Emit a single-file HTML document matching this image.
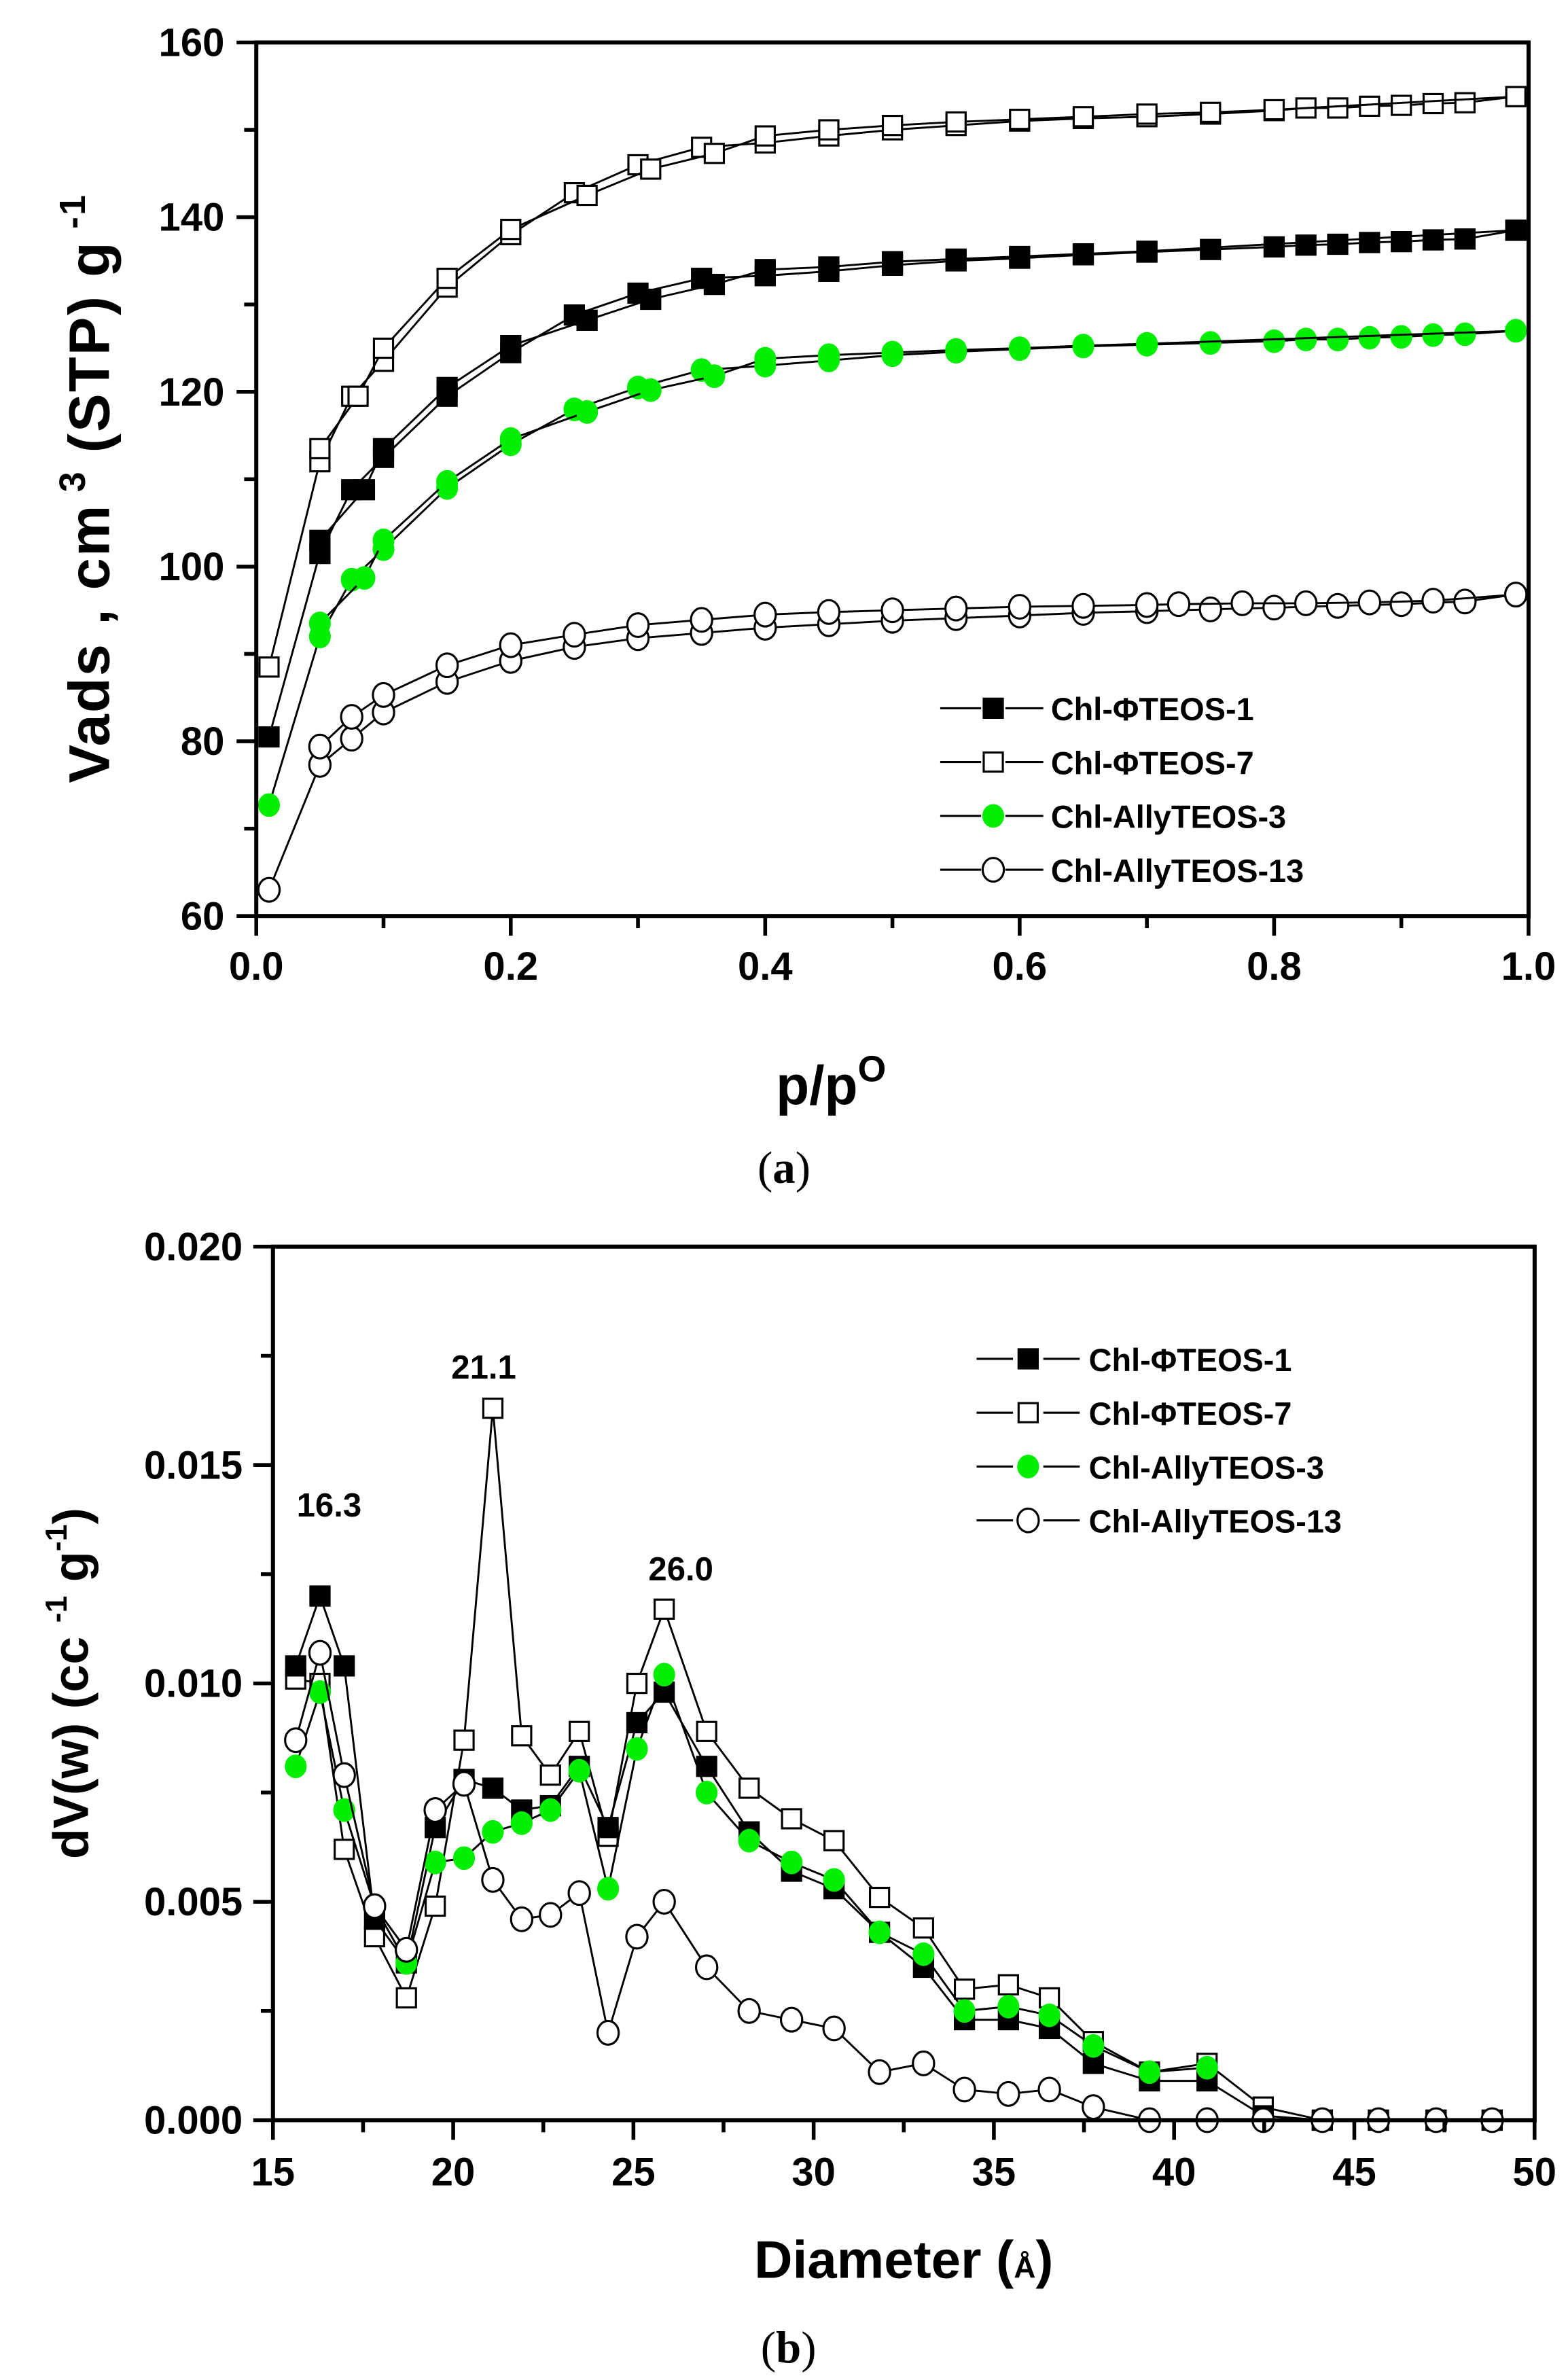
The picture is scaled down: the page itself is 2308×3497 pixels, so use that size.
<!DOCTYPE html>
<html><head><meta charset="utf-8"><style>
html,body{margin:0;padding:0;background:#fff}
svg{display:block}
text{font-family:"Liberation Sans",sans-serif;font-weight:bold;fill:#000}
</style></head><body>
<svg id="s" width="2308" height="3497" viewBox="0 0 1034 1566.7" xmlns="http://www.w3.org/2000/svg"></svg>
<script>
const S=document.getElementById('s');let h='';
function X1(v){return 169+v*839}function Y1(v){return 604-(v-60)*5.76}
function X2(v){return 180+(v-15)*23.77}function Y2(v){return 1398-v*28800}
function line(pts,fx,fy){return '<polyline fill="none" stroke="#000" stroke-width="1.3" points="'+pts.map(p=>fx(p[0]).toFixed(1)+','+fy(p[1]).toFixed(1)).join(' ')+'"/>'}
function mk(t,x,y){
 if(t==0)return `<rect x="${x-7}" y="${y-7}" width="14" height="14" fill="#000"/>`;
 if(t==1)return `<rect x="${x-6.3}" y="${y-6.3}" width="12.6" height="12.6" fill="#fff" stroke="#000" stroke-width="1.4"/>`;
 if(t==2)return `<ellipse cx="${x}" cy="${y}" rx="7.2" ry="7.8" fill="#00ee00"/>`;
 return `<ellipse cx="${x}" cy="${y}" rx="7" ry="7.8" fill="#fff" stroke="#000" stroke-width="1.4"/>`;}
function series(t,pts,fx,fy){h+=line(pts,fx,fy);pts.forEach(p=>h+=mk(t,fx(p[0]),fy(p[1])));}
const A={
1:[[0.01,88.5],[0.05,112],[0.075,119.5],[0.1,123.5],[0.15,132],[0.2,138],[0.25,142.8],[0.3,146],[0.35,148],[0.4,148.5],[0.45,149.3],[0.5,150],[0.55,150.5],[0.6,151],[0.65,151.3],[0.7,151.5],[0.75,151.8],[0.8,152.2],[0.825,152.5],[0.85,152.5],[0.875,152.7],[0.9,152.8],[0.925,153],[0.95,153.1],[0.99,153.8]],
"1d":[[0.05,113.5],[0.08,119.5],[0.1,125],[0.15,133],[0.2,138.6],[0.26,142.5],[0.31,145.5],[0.36,147.3],[0.4,149.3],[0.45,150],[0.5,150.5],[0.55,150.9],[0.6,151.2],[0.65,151.5],[0.7,151.8],[0.75,152],[0.8,152.3],[0.99,153.8]],
0:[[0.01,80.5],[0.05,101.5],[0.075,108.8],[0.1,112.5],[0.15,119.5],[0.2,124.5],[0.25,128.8],[0.3,131.3],[0.35,133],[0.4,133.3],[0.45,133.8],[0.5,134.5],[0.55,135],[0.6,135.3],[0.65,135.7],[0.7,136],[0.75,136.3],[0.8,136.6],[0.825,136.8],[0.85,136.9],[0.875,137.1],[0.9,137.2],[0.925,137.4],[0.95,137.5],[0.99,138.5]],
"0d":[[0.05,103],[0.085,108.8],[0.1,113.5],[0.15,120.5],[0.2,125.3],[0.26,128.2],[0.31,130.6],[0.36,132.3],[0.4,134],[0.45,134.3],[0.5,134.9],[0.55,135.2],[0.6,135.5],[0.65,135.8],[0.7,136.1],[0.99,138.5]],
2:[[0.01,72.7],[0.05,92],[0.075,98.5],[0.1,102],[0.15,109],[0.2,114],[0.25,118],[0.3,120.5],[0.35,122.5],[0.4,123],[0.45,123.6],[0.5,124.2],[0.55,124.6],[0.6,124.9],[0.65,125.2],[0.7,125.4],[0.75,125.6],[0.8,125.8],[0.825,126],[0.85,126],[0.875,126.2],[0.9,126.3],[0.925,126.5],[0.95,126.6],[0.99,127]],
"2d":[[0.05,93.5],[0.085,98.7],[0.1,103],[0.15,109.7],[0.2,114.6],[0.26,117.7],[0.31,120.2],[0.36,121.8],[0.4,123.8],[0.45,124.2],[0.5,124.5],[0.55,124.8],[0.6,125],[0.65,125.3],[0.7,125.5],[0.99,127]],
3:[[0.01,63],[0.05,77.3],[0.075,80.3],[0.1,83.3],[0.15,86.8],[0.2,89.2],[0.25,90.8],[0.3,91.8],[0.35,92.4],[0.4,93],[0.45,93.4],[0.5,93.8],[0.55,94.1],[0.6,94.4],[0.65,94.7],[0.7,94.9],[0.75,95.1],[0.8,95.3],[0.85,95.5],[0.9,95.7],[0.95,96],[0.99,96.8]],
"3d":[[0.05,79.4],[0.075,82.8],[0.1,85.3],[0.15,88.7],[0.2,91],[0.25,92.2],[0.3,93.3],[0.35,93.9],[0.4,94.5],[0.45,94.8],[0.5,95],[0.55,95.2],[0.6,95.4],[0.65,95.5],[0.7,95.6],[0.725,95.7],[0.775,95.8],[0.825,95.8],[0.875,95.9],[0.925,96.1],[0.99,96.8]]};
for(const k of [1,0,2,3]){series(k,A[k],X1,Y1);series(k,A[k+"d"],X1,Y1);}
h+='<rect x="169" y="28" width="839" height="576" fill="none" stroke="#000" stroke-width="2.7"/>';
for(let i=0;i<=10;i++){let x=X1(i/10);h+=`<line x1="${x}" y1="604" x2="${x}" y2="${604+(i%2?8:13)}" stroke="#000" stroke-width="2.5"/>`;if(i%2==0)h+=`<text x="${x}" y="646" font-size="26" text-anchor="middle">${(i/10).toFixed(1)}</text>`;}
for(let v=60;v<=160;v+=10){let y=Y1(v);h+=`<line x1="169" y1="${y}" x2="${169-(v%20?8:13)}" y2="${y}" stroke="#000" stroke-width="2.5"/>`;if(v%20==0)h+=`<text x="148" y="${y+9}" font-size="26" text-anchor="end">${v}</text>`;}
h+='<text x="548" y="728" font-size="36" text-anchor="middle">p/p<tspan font-size="24" dy="-15">O</tspan></text>';
h+='<text transform="translate(72,322) rotate(-90)" font-size="38" text-anchor="middle" letter-spacing="1">Vads , cm<tspan font-size="24" dy="-16"> 3</tspan><tspan dy="16"> (STP) g</tspan><tspan font-size="24" dy="-16"> -1</tspan></text>';
h+='<text x="517" y="780" font-size="30" text-anchor="middle" style="font-family:\'Liberation Serif\',serif;font-weight:normal">(<tspan font-weight="bold">a</tspan>)</text>';
const L1=["Chl-ΦTEOS-1","Chl-ΦTEOS-7","Chl-AllyTEOS-3","Chl-AllyTEOS-13"];
[0,1,2,3].forEach(i=>{let y=467+i*35.5;h+=`<line x1="620" y1="${y}" x2="647" y2="${y}" stroke="#000" stroke-width="1.4"/><line x1="663" y1="${y}" x2="688" y2="${y}" stroke="#000" stroke-width="1.4"/>`+mk(i,655,y)+`<text x="693" y="${y+8}" font-size="21">${L1[i]}</text>`;});
const xs=[195,211,227,247,268,287,306,325,344,363,382,401,420,438,466,494,522,550,580,609,636,665,692,721,758,796,833,872,909,947,984].map(p=>(p-180)/23.77+15);
const B={1:[0.0101,0.01,0.0062,0.0042,0.0028,0.0049,0.0087,0.0163,0.0088,0.0079,0.0089,0.0065,0.01,0.0117,0.0089,0.0076,0.0069,0.0064,0.0051,0.0044,0.003,0.0031,0.0028,0.0018,0.0011,0.0013,0.0003,0,0,0,0],
0:[0.0104,0.012,0.0104,0.0046,0.0036,0.0067,0.0078,0.0076,0.0071,0.0072,0.0081,0.0067,0.0091,0.0098,0.0081,0.0066,0.0057,0.0053,0.0043,0.0035,0.0023,0.0023,0.0021,0.0013,0.0009,0.0009,0.0001,0,0,0,0],
2:[0.0081,0.0098,0.0071,0.0049,0.0036,0.0059,0.006,0.0066,0.0068,0.0071,0.008,0.0053,0.0085,0.0102,0.0075,0.0064,0.0059,0.0055,0.0043,0.0038,0.0025,0.0026,0.0024,0.0017,0.0011,0.0012],
3:[0.0087,0.0107,0.0079,0.0049,0.0039,0.0071,0.0077,0.0055,0.0046,0.0047,0.0052,0.002,0.0042,0.005,0.0035,0.0025,0.0023,0.0021,0.0011,0.0013,0.0007,0.0006,0.0007,0.0003,0,0,0,0,0,0,0]};
for(const k of [1,0,2,3])series(k,B[k].map((v,i)=>[xs[i],v]),X2,Y2);
h+='<rect x="180" y="822" width="832" height="576" fill="none" stroke="#000" stroke-width="2.7"/>';
for(let v=15;v<=50;v+=2.5){let x=X2(v),maj=(v%5==0);h+=`<line x1="${x}" y1="1398" x2="${x}" y2="${1398+(maj?13:8)}" stroke="#000" stroke-width="2.5"/>`;if(maj)h+=`<text x="${x}" y="1441" font-size="26" text-anchor="middle">${v}</text>`;}
for(let i=0;i<=8;i++){let v=i*0.0025,y=Y2(v);h+=`<line x1="180" y1="${y}" x2="${180-(i%2?8:13)}" y2="${y}" stroke="#000" stroke-width="2.5"/>`;if(i%2==0)h+=`<text x="160" y="${y+9}" font-size="26" text-anchor="end">${v.toFixed(3)}</text>`;}
h+='<text x="596" y="1502" font-size="35" text-anchor="middle">Diameter (<tspan font-size="20">Å</tspan>)</text>';
h+='<text transform="translate(58,1110) rotate(-90)" font-size="33" text-anchor="middle">dV(w)  (cc <tspan font-size="20" dy="-14">-1</tspan><tspan dy="14"> g</tspan><tspan font-size="20" dy="-14">-1</tspan><tspan dy="14">)</tspan></text>';
h+='<text x="520" y="1558" font-size="30" text-anchor="middle" style="font-family:\'Liberation Serif\',serif;font-weight:normal">(<tspan font-weight="bold">b</tspan>)</text>';
h+='<text x="217" y="1000" font-size="22" text-anchor="middle">16.3</text><text x="319" y="909" font-size="22" text-anchor="middle">21.1</text><text x="449" y="1042" font-size="22" text-anchor="middle">26.0</text>';
[0,1,2,3].forEach(i=>{let y=896+i*35.5;h+=`<line x1="644" y1="${y}" x2="668" y2="${y}" stroke="#000" stroke-width="1.4"/><line x1="688" y1="${y}" x2="712" y2="${y}" stroke="#000" stroke-width="1.4"/>`+mk(i,678,y)+`<text x="718" y="${y+8}" font-size="21">${L1[i]}</text>`;});
S.innerHTML=h;
</script>
</body></html>
